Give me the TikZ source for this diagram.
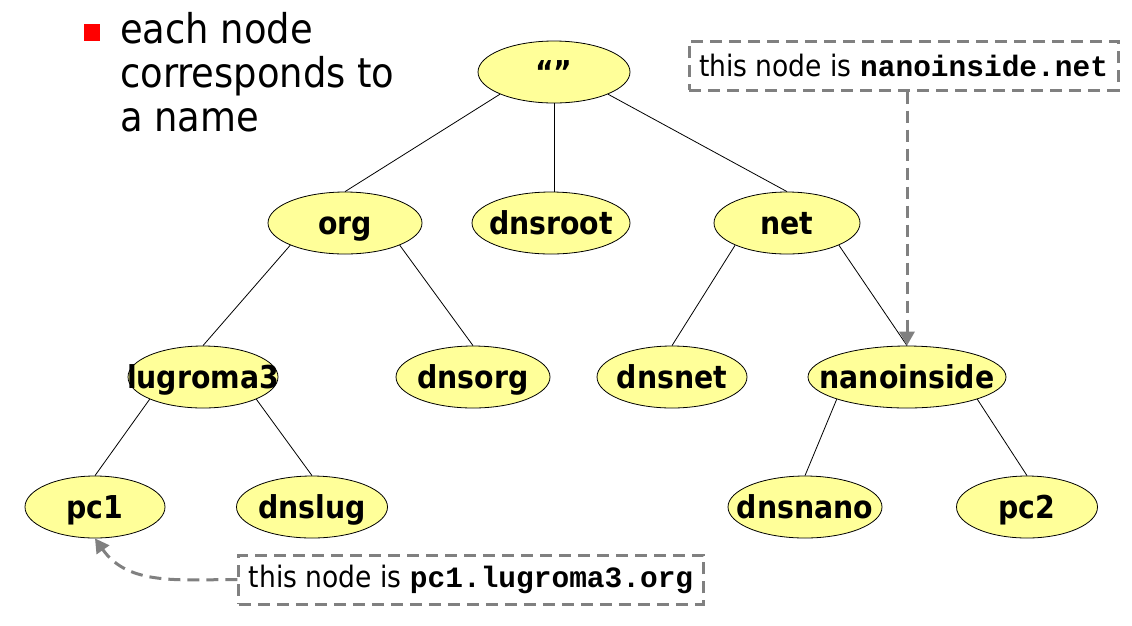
\documentclass[tikz,border=0pt]{standalone}
\usepackage{fontspec}
\setmainfont{DejaVu Sans Condensed}
\setmonofont{Liberation Mono}
\usetikzlibrary{shapes.geometric,arrows.meta}
\definecolor{nodefill}{HTML}{FFFF99}
\definecolor{calloutgray}{HTML}{808080}
\definecolor{bulletred}{HTML}{FF0000}
\newcommand{\dnslbl}[1]{\raisebox{-11.5pt}[0pt][0pt]{\makebox[0pt]{#1}}}
\tikzset{
  dnsnode/.style={ellipse, draw=black, line width=0.8pt, fill=nodefill,
    inner sep=0pt, minimum height=62pt,
    font=\fontsize{31.5}{31.5}\selectfont\bfseries},
  treeedge/.style={draw=black, line width=0.8pt},
  callout/.style={draw=calloutgray, line width=3pt, dash pattern=on 12pt off 7pt,
    inner xsep=10pt, inner ysep=0pt, minimum height=49pt,
    font=\fontsize{29.5}{29.5}\selectfont},
  pointer/.style={draw=calloutgray, line width=3pt, dash pattern=on 12pt off 7pt,
    -{Triangle[length=14pt,width=15pt,fill=calloutgray]}},
}
\begin{document}
\begin{tikzpicture}[x=1pt,y=-1pt]
\useasboundingbox (0,0) rectangle (1132,625);
% bullet text
\fill[bulletred] (84,24) rectangle (100,41);
\node[anchor=north west, inner sep=0pt, align=left,
  font=\fontsize{41}{44}\selectfont] (bullet) at (120,12)
  {each node\\corresponds to\\a name};
% nodes
\node[dnsnode, minimum width=152pt] (root) at (554,72) {\dnslbl{“”}};
\node[dnsnode, minimum width=154pt] (org) at (345,223) {\dnslbl{org}};
\node[dnsnode, minimum width=158pt] (dnsroot) at (551,223) {\dnslbl{dnsroot}};
\node[dnsnode, minimum width=146pt] (net) at (787,223) {\dnslbl{net}};
\node[dnsnode, minimum width=150pt] (lug) at (203,377) {\dnslbl{lugroma3}};
\node[dnsnode, minimum width=154pt] (dnsorg) at (473,377) {\dnslbl{dnsorg}};
\node[dnsnode, minimum width=150pt] (dnsnet) at (672,377) {\dnslbl{dnsnet}};
\node[dnsnode, minimum width=198pt] (nano) at (907,377) {\dnslbl{nanoinside}};
\node[dnsnode, minimum width=140pt] (pc1) at (95,507) {\dnslbl{pc1}};
\node[dnsnode, minimum width=151pt] (dnslug) at (312,507) {\dnslbl{dnslug}};
\node[dnsnode, minimum width=154pt] (dnsnano) at (805,507) {\dnslbl{dnsnano}};
\node[dnsnode, minimum width=141pt] (pc2) at (1027,507) {\dnslbl{pc2}};
% edges
\draw[treeedge] (root.south west) -- (org.north);
\draw[treeedge] (root.south) -- (root.south |- dnsroot.north);
\draw[treeedge] (root.south east) -- (net.north);
\draw[treeedge] (org.south west) -- (lug.north);
\draw[treeedge] (org.south east) -- (dnsorg.north);
\draw[treeedge] (net.south west) -- (dnsnet.north);
\draw[treeedge] (net.south east) -- (nano.north);
\draw[treeedge] (lug.south west) -- (pc1.north);
\draw[treeedge] (lug.south east) -- (dnslug.north);
\draw[treeedge] (nano.south west) -- (dnsnano.north);
\draw[treeedge] (nano.south east) -- (pc2.north);
% callouts
\node[callout] (topbox) at (903.5,65.5) {this node is \texttt{\bfseries nanoinside.net}};
\node[callout] (botbox) at (471,579.5) {this node is \texttt{\bfseries pc1.lugroma3.org}};
\draw[pointer] (nano |- topbox.south) -- (nano.north);
\draw[pointer] (botbox.west) to[out=180, in=-55] (pc1.south);
\end{tikzpicture}
\end{document}
